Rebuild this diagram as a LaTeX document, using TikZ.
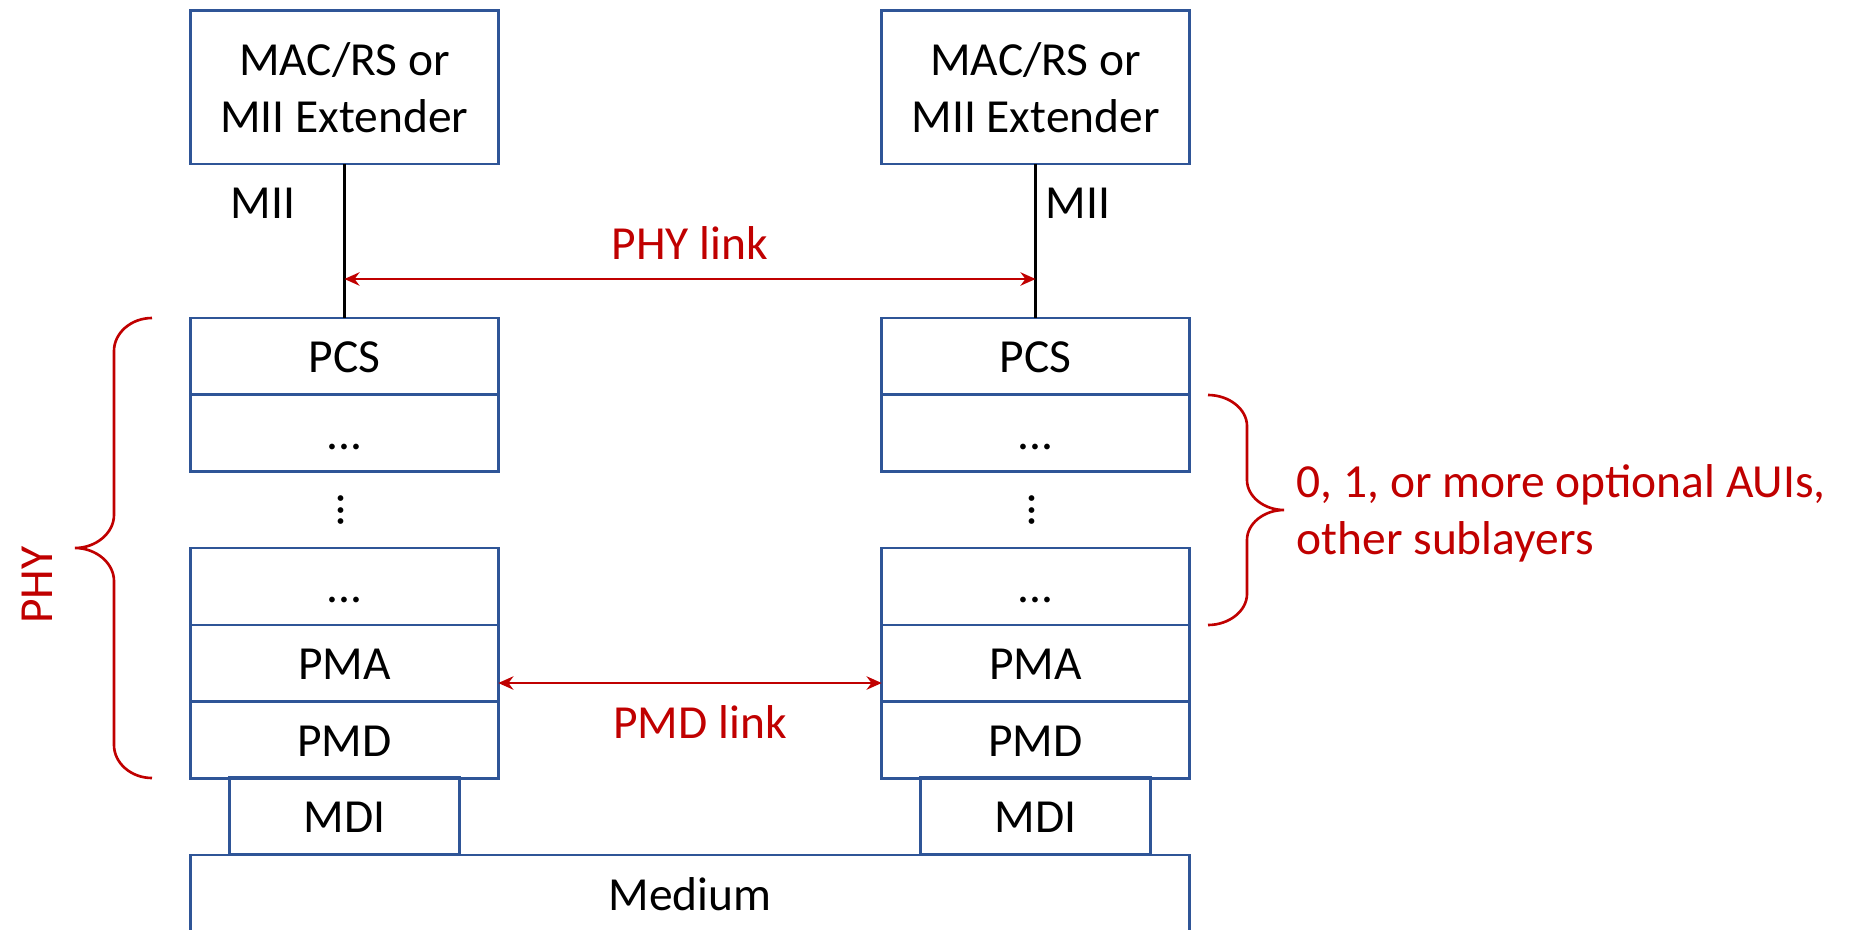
\documentclass[tikz,border=0pt]{standalone}
\usepackage{fontspec}
\setmainfont{Carlito}
\usetikzlibrary{arrows.meta}
\definecolor{boxblue}{HTML}{2F5597}
\definecolor{linkred}{HTML}{C00000}

\begin{document}
\begin{tikzpicture}[x=0.01cm, y=-0.01cm, >={Stealth[length=4.3pt,width=3.8pt,inset=1.4pt]},
  every node/.style={font=\fontsize{13.5pt}{16.2pt}\selectfont},
  station/.style={draw=boxblue, line width=0.75pt, inner sep=0pt, outer sep=0pt, minimum width=3.076cm, minimum height=1.533cm, align=center},
  layer/.style={draw=boxblue, line width=0.75pt, inner sep=0pt, outer sep=0pt, minimum width=3.076cm, minimum height=0.767cm, text height=9.2pt, text depth=0pt},
  redtxt/.style={text=linkred, inner sep=0pt},
  curly/.style={draw=linkred, line width=0.75pt}]
\useasboundingbox (0,0) rectangle (1860,930);
% left station
\node[station] (macL) at (344.4,87.3) {MAC/RS or\\MII Extender};
\node[layer] (pcsL) at (344.4,356.5) {PCS};
\node[layer] (dotsL) at (344.4,433) {...};
\node[rotate=90] (vdL) at (341,510) {...};
\node[layer] (subL) at (344.4,586.5) {...};
\node[layer] (pmaL) at (344.4,663.5) {PMA};
\node[layer] (pmdL) at (344.4,740) {PMD};
\node[layer, minimum width=2.302cm] (mdiL) at (344.4,816) {MDI};
% right station
\node[station] (macR) at (1035.6,87.3) {MAC/RS or\\MII Extender};
\node[layer] (pcsR) at (1035.6,356.5) {PCS};
\node[layer] (dotsR) at (1035.6,433) {...};
\node[rotate=90] (vdR) at (1032,510) {...};
\node[layer] (subR) at (1035.6,586.5) {...};
\node[layer] (pmaR) at (1035.6,663.5) {PMA};
\node[layer] (pmdR) at (1035.6,740) {PMD};
\node[layer, minimum width=2.302cm] (mdiR) at (1035.6,816) {MDI};
\node[layer, minimum width=9.988cm, minimum height=0.78cm] (medium) at (690,894) {Medium};
% MII
\draw[line width=0.7pt] (macL.south) -- (pcsL.north);
\draw[line width=0.7pt] (macR.south) -- (pcsR.north);
\node (miiL) at (263,203) {MII};
\node (miiR) at (1078,203) {MII};
% links
\coordinate (phyL) at (344.4,279);
\coordinate (phyR) at (1035.6,279);
\draw[<->, draw=linkred, line width=0.8pt] (phyL) -- (phyR);
\node[redtxt] (phylink) at (690,243) {PHY link};
\draw[<->, draw=linkred, line width=0.8pt] ([yshift=-0.195cm]pmaL.east) -- ([yshift=-0.195cm]pmaR.west);
\node[redtxt] (pmdlink) at (700,722) {PMD link};
% braces
\draw[curly] (152,318) .. controls (131,318) and (114,333) .. (114,351) -- (114,515)
  .. controls (114,533) and (96,548) .. (75,548) .. controls (96,548) and (114,563) .. (114,581)
  -- (114,745) .. controls (114,763) and (131,778) .. (152,778);
\node[redtxt, rotate=90] (phy) at (37.5,585) {PHY};
\draw[curly] (1208,395) .. controls (1229,395) and (1247,409) .. (1247,426) -- (1247,480)
  .. controls (1247,496.5) and (1264,510) .. (1284,510) .. controls (1264,510) and (1247,523.5) .. (1247,540)
  -- (1247,594) .. controls (1247,611) and (1229,625) .. (1208,625);
\node[redtxt, anchor=west, align=left] (auis) at (1296,513) {0, 1, or more optional AUIs,\\other sublayers};
\end{tikzpicture}
\end{document}
